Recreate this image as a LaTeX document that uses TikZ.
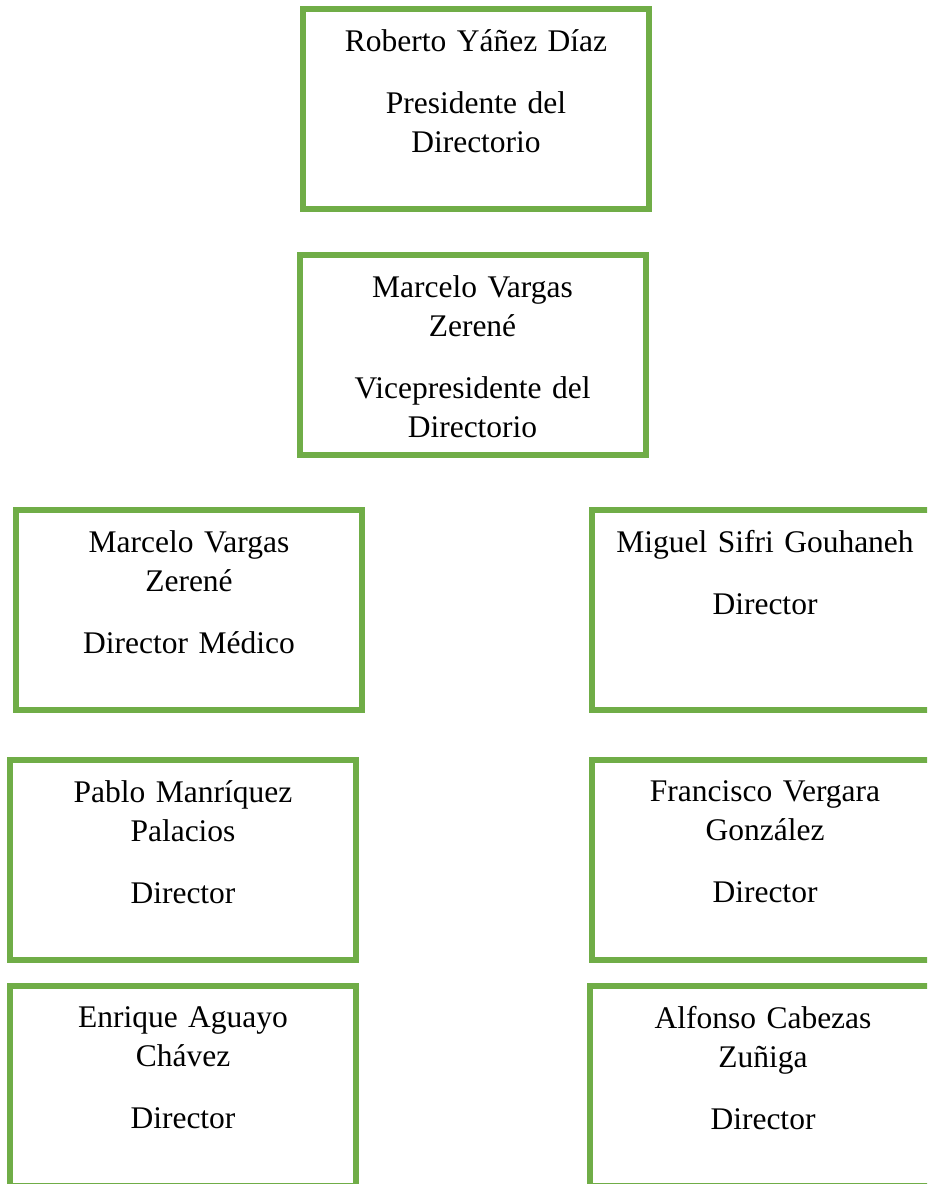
\documentclass[tikz,border=0pt]{standalone}
\usepackage{fontspec}
\setmainfont{Liberation Serif}
\usetikzlibrary{positioning}

\definecolor{verde}{RGB}{112,173,71}

\tikzset{
  cargo/.style={draw=verde, line width=6pt, minimum width=346pt, minimum height=200pt, inner sep=0pt},
  texto/.style={anchor=north, inner sep=0pt, text width=340pt, align=center, font=\fontsize{31.5}{39}\selectfont}
}

\begin{document}
\begin{tikzpicture}[x=1pt, y=-1pt]
          \useasboundingbox (0,0) rectangle (927,1184);
          \clip (0,0) rectangle (927,1184);

          % cajas
          \node[cargo] (pres)                 at (476,109) {};
          \node[cargo] (vice)   [below=40pt of pres, xshift=-3.5pt] {};
          \node[cargo] (medico)               at (189,610) {};
          \node[cargo] (sifri)  [right=224pt of medico] {};
          \node[cargo] (manriq) [below=44pt of medico, xshift=-6pt] {};
          \node[cargo] (verg)   [below=44pt of sifri] {};
          \node[cargo] (aguayo) [below=20pt of manriq] {};
          \node[cargo] (cabez)  [below=20pt of verg, xshift=-2pt] {};

          % textos
          \node[texto] (presT)   at ([yshift=-23pt]pres.north)   {Roberto Yáñez Díaz\\[23pt] Presidente del\\ Directorio};
          \node[texto] (viceT)   at ([yshift=-23pt]vice.north)   {Marcelo Vargas\\ Zerené\\[23pt] Vicepresidente del\\ Directorio};
          \node[texto] (medicoT) at ([yshift=-23pt]medico.north) {Marcelo Vargas\\ Zerené\\[23pt] Director Médico};
          \node[texto] (sifriT)  at ([yshift=-23pt]sifri.north)  {Miguel Sifri Gouhaneh\\[23pt] Director};
          \node[texto] (manriqT) at ([yshift=-23pt]manriq.north) {Pablo Manríquez\\ Palacios\\[23pt] Director};
          \node[texto] (vergT)   at ([yshift=-23pt]verg.north)   {Francisco Vergara\\ González\\[23pt] Director};
          \node[texto] (aguayoT) at ([yshift=-23pt]aguayo.north) {Enrique Aguayo\\ Chávez\\[23pt] Director};
          \node[texto] (cabezT)  at ([yshift=-23pt]cabez.north)  {Alfonso Cabezas\\ Zuñiga\\[23pt] Director};
\end{tikzpicture}
\end{document}
